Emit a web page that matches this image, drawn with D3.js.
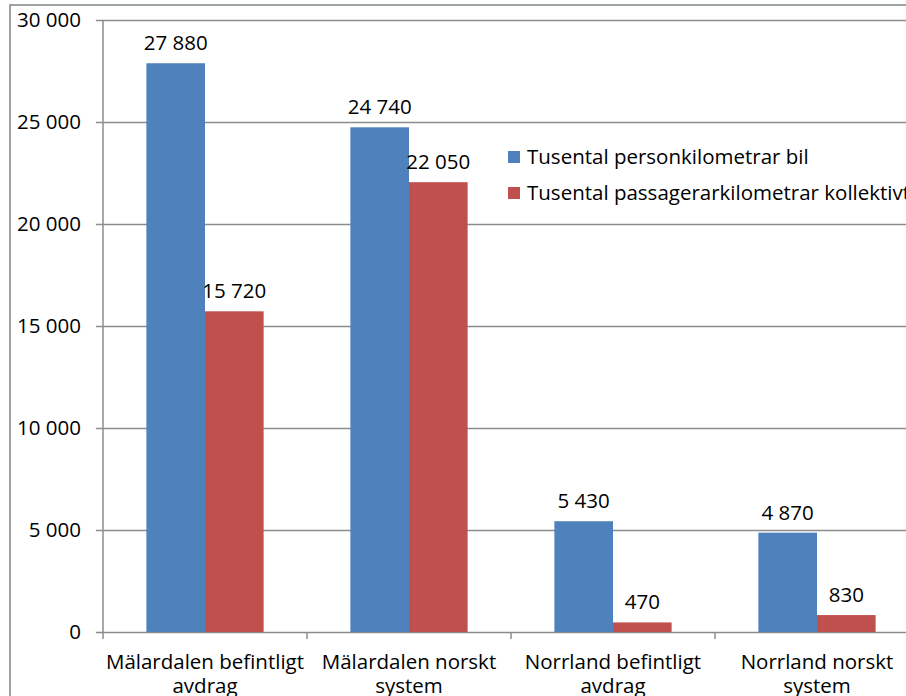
<!DOCTYPE html>
<html>
<head>
<meta charset="utf-8">
<script src="https://cdn.jsdelivr.net/npm/d3@7"></script>
<style>
  body { margin: 0; background: #fff; }
  text { font-family: "Open Sans", sans-serif; fill: #000; }
</style>
</head>
<body>
<div id="chart"></div>
<script>
const categories = [
    ["Mälardalen befintligt", "avdrag"],
    ["Mälardalen norskt", "system"],
    ["Norrland befintligt", "avdrag"],
    ["Norrland norskt", "system"]
];
const seriesNames = ["Tusental personkilometrar bil", "Tusental passagerarkilometrar kollektivt"];
const bilValues = [27880, 24740, 5430, 4870];
const kollektivValues = [15720, 22050, 470, 830];
const yTicks = [0, 5000, 10000, 15000, 20000, 25000, 30000];
const colors = ["#4f81bd", "#c0504d"];

const width = 906,
      height = 696,
      margin = ({top: 20, right: -13, bottom: 64, left: 103}),
      fontSize = 20.5;

const fmt = v => d3.format(",")(v).replace(/,/g, " ");

const data = categories.map((c, i) => ({
    key: i,
    label: c,
    values: [bilValues[i], kollektivValues[i]]
}));

let svg = d3.select("#chart")
    .append("svg")
    .attr("width", width)
    .attr("height", height);

// outer frame
svg.append("rect")
    .attr("x", 10).attr("y", 5)
    .attr("width", width + 20).attr("height", height + 20)
    .attr("fill", "none")
    .attr("stroke", "#7f8589")
    .attr("stroke-width", 1.5);

let x = d3.scaleBand()
    .domain(data.map(d => d.key))
    .range([margin.left, width - margin.right])
    .padding(0);

let xs = d3.scaleBand()
    .domain([0, 1])
    .range([0, x.bandwidth()])
    .paddingInner(0)
    .paddingOuter(0.74);

let y = d3.scaleLinear()
    .domain([0, 30000])
    .range([height - margin.bottom, margin.top]);

// gridlines + y axis
const yAxis = g => g
    .attr("transform", `translate(${margin.left},0)`)
    .call(d3.axisLeft(y).tickValues(yTicks).tickFormat(fmt)
        .tickSizeInner(-(width - margin.right - margin.left)).tickSizeOuter(0).tickPadding(22))
    .call(g => g.select(".domain").remove())
    .call(g => g.selectAll(".tick line").attr("stroke", "#8c8c8c").attr("stroke-width", 1.5))
    .call(g => g.selectAll(".tick").append("line")
        .attr("x1", -7).attr("x2", 0)
        .attr("stroke", "#8c8c8c").attr("stroke-width", 1.5))
    .call(g => g.selectAll(".tick text").attr("font-size", fontSize).attr("fill", "#000")
        .attr("font-family", "Open Sans"));

svg.append("g").call(yAxis);

// vertical axis line
svg.append("line")
    .attr("x1", margin.left).attr("x2", margin.left)
    .attr("y1", margin.top).attr("y2", y(0))
    .attr("stroke", "#8c8c8c").attr("stroke-width", 1.5);

// category ticks
svg.append("g")
    .selectAll("line")
    .data(d3.range(categories.length + 1))
    .join("line")
    .attr("x1", i => margin.left + i * x.step())
    .attr("x2", i => margin.left + i * x.step())
    .attr("y1", y(0)).attr("y2", y(0) + 7)
    .attr("stroke", "#8c8c8c").attr("stroke-width", 1.5);

let group = svg.selectAll(".grp")
    .data(data)
    .join("g")
    .attr("class", "grp")
    .attr("transform", d => `translate(${x(d.key)},0)`);

group.selectAll("rect")
    .data(d => d.values.map((v, j) => ({v, j})))
    .join("rect")
    .attr("x", d => xs(d.j))
    .attr("width", xs.bandwidth())
    .attr("y", d => y(d.v))
    .attr("height", d => y(0) - y(d.v))
    .attr("fill", d => colors[d.j]);

group.selectAll(".val")
    .data(d => d.values.map((v, j) => ({v, j})))
    .join("text")
    .attr("class", "val")
    .attr("x", d => xs(d.j) + xs.bandwidth() / 2)
    .attr("y", d => y(d.v) - 13)
    .attr("text-anchor", "middle")
    .attr("font-size", fontSize)
    .text(d => fmt(d.v));

// category labels
group.selectAll(".cat")
    .data(d => d.label)
    .join("text")
    .attr("class", "cat")
    .attr("x", x.bandwidth() / 2)
    .attr("y", (d, i) => y(0) + 37 + i * 24)
    .attr("text-anchor", "middle")
    .attr("font-size", fontSize)
    .text(d => d);

// legend
let legend = svg.append("g")
    .attr("transform", "translate(508,151)");

let li = legend.selectAll("g")
    .data(seriesNames)
    .join("g")
    .attr("transform", (d, i) => `translate(0,${i * 36})`);

li.append("rect")
    .attr("width", 12).attr("height", 12)
    .attr("fill", (d, i) => colors[i]);

li.append("text")
    .attr("x", 19)
    .attr("y", 6)
    .attr("dy", "0.35em")
    .attr("font-size", fontSize)
    .text(d => d);
</script>
</body>
</html>
